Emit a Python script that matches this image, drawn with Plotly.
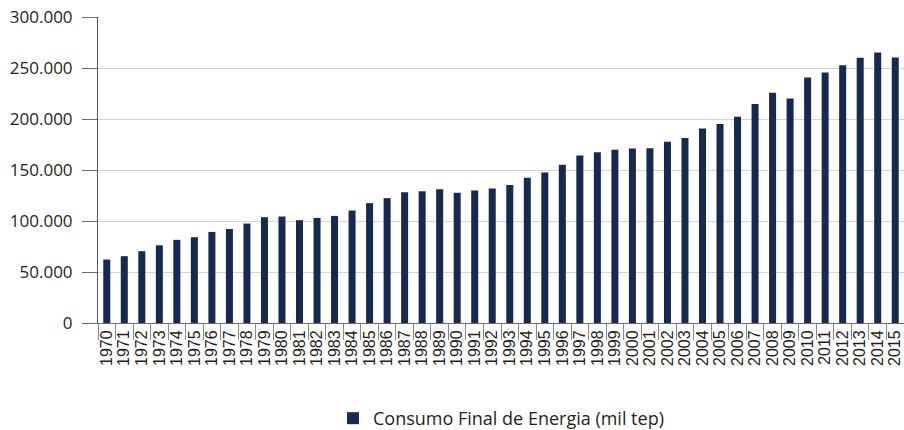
import plotly.graph_objects as go

years = [str(y) for y in range(1970, 2016)]
consumo = [
    62200, 65500, 70400, 76200, 81500, 84100, 89300, 92200, 97500, 103700,
    104400, 100800, 103000, 105000, 110300, 117500, 122400, 128300, 129200, 131200,
    127600, 129900, 131900, 135400, 142300, 147600, 155100, 164300, 167500, 169800,
    171100, 171400, 177600, 181300, 190800, 195000, 202200, 214600, 225700, 220200,
    240800, 245700, 252600, 260100, 265300, 260400,
]
y_ticks = [0, 50000, 100000, 150000, 200000, 250000, 300000]
series_name = "Consumo Final de Energia (mil tep)"

fig = go.Figure()
fig.add_trace(go.Bar(
    x=years, y=consumo, name=series_name,
    marker=dict(color="#142a50", line=dict(width=0)),
    showlegend=True,
))

fig.update_layout(
    width=904, height=430,
    margin=dict(l=98, r=0, t=17, b=107, autoexpand=False),
    paper_bgcolor="white", plot_bgcolor="white",
    separators=",.",
    bargap=0.6,
    showlegend=True,
    legend=dict(
        orientation="h", x=0.5, xanchor="center", y=-0.312, yanchor="middle",
        font=dict(family="Open Sans", size=18, color="#231f20"),
        itemwidth=30,
        traceorder="normal",
    ),
    xaxis=dict(
        type="category",
        tickmode="array", tickvals=years, ticktext=years,
        tickangle=-90,
        tickfont=dict(family="Liberation Sans", size=16, color="#231f20"),
        ticks="outside", ticklen=16, tickcolor="#8a8a8a", tickwidth=1,
        tickson="boundaries",
        showline=True, linecolor="#6d6d6d", linewidth=1,
        showgrid=False, zeroline=False,
        automargin=False,
        range=[-0.5, 45.5],
    ),
    yaxis=dict(
        range=[0, 300000],
        tickvals=y_ticks,
        tickformat=",.0f",
        tickfont=dict(family="Open Sans", size=17, color="#231f20"),
        ticks="outside", ticklen=15, tickcolor="#6d6d6d", tickwidth=1,
        ticklabelstandoff=6,
        showline=True, linecolor="#555555", linewidth=1,
        showgrid=True, gridcolor="#d4d4d4", gridwidth=1,
        zeroline=False,
        automargin=False,
    ),
)

fig.write_html(
    "out.html",
    config={"displayModeBar": False},
    post_script="document.body.style.margin='0';document.body.style.overflow='hidden';",
)
